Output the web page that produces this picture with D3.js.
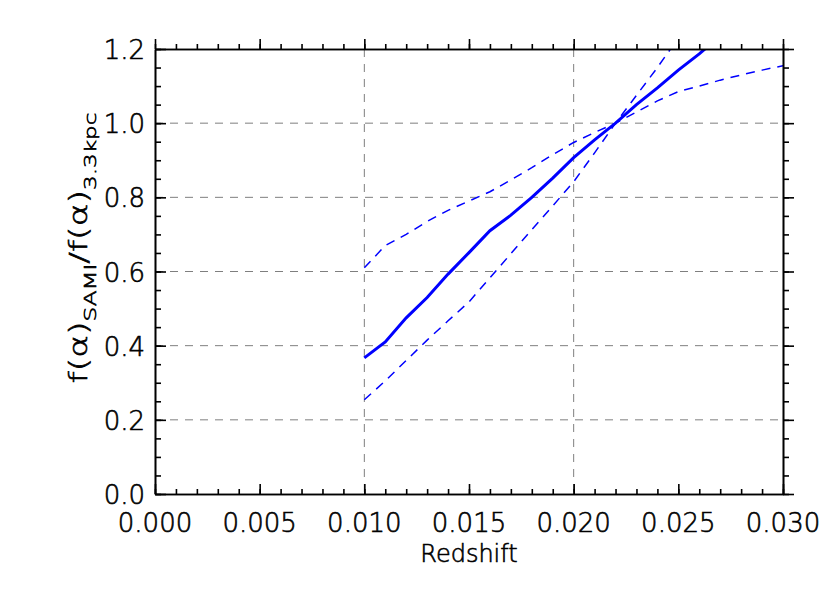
<!DOCTYPE html>
<html>
<head>
<meta charset="utf-8">
<script src="https://cdn.jsdelivr.net/npm/d3@7"></script>
<style>
  body { margin: 0; background: #fff; }
  svg { font-family: "DejaVu Sans", sans-serif; }
  text { font-weight: 200; fill: #000; stroke: #000; stroke-width: 0.6; }
</style>
</head>
<body>
<svg id="chart" width="830" height="593"></svg>
<script>
  // redshift samples
  var z = [0.010, 0.011, 0.012, 0.013, 0.014, 0.015, 0.016, 0.017, 0.018, 0.019,
           0.020, 0.021, 0.022, 0.023, 0.024, 0.025, 0.026, 0.027, 0.028, 0.029, 0.030];
  // ratio f(alpha)_SAMI / f(alpha)_3.3kpc
  var ratioMid   = [0.367, 0.41, 0.475, 0.53, 0.593, 0.651, 0.71, 0.752, 0.80, 0.852,
                    0.907, 0.955, 1.0, 1.05, 1.095, 1.143, 1.187, 1.235, 1.28, 1.325, 1.37];
  var ratioUpper = [0.61, 0.67, 0.70, 0.735, 0.765, 0.79, 0.815, 0.847, 0.88, 0.915,
                    0.948, 0.975, 1.0, 1.03, 1.06, 1.085, 1.10, 1.116, 1.13, 1.143, 1.155];
  var ratioLower = [0.254, 0.305, 0.36, 0.415, 0.467, 0.518, 0.583, 0.648, 0.713, 0.777,
                    0.842, 0.92, 1.0, 1.075, 1.15, 1.23, 1.31, 1.39, 1.47, 1.55, 1.63];

  var xTicks = [0.000, 0.005, 0.010, 0.015, 0.020, 0.025, 0.030];
  var yTicks = [0.0, 0.2, 0.4, 0.6, 0.8, 1.0, 1.2];
  var xGrid = [0.010, 0.020];
  var yGrid = [0.2, 0.4, 0.6, 0.8, 1.0];

  var margin = {top: 49, right: 47, bottom: 99, left: 155};
  var width = 830 - margin.left - margin.right,
      height = 593 - margin.top - margin.bottom;

  var x = d3.scaleLinear().domain([0, 0.030]).range([0, width]);
  var y = d3.scaleLinear().domain([0, 1.2]).range([height, 0]);

  var svg = d3.select("#chart");
  var g = svg.append("g")
    .attr("transform", "translate(" + margin.left + "," + margin.top + ")");

  svg.append("defs").append("clipPath").attr("id", "clip")
    .append("rect").attr("width", width).attr("height", height);

  // dashed grid
  g.selectAll(".hgrid").data(yGrid).enter().append("line")
    .attr("x1", 0).attr("x2", width)
    .attr("y1", function(d) { return y(d); })
    .attr("y2", function(d) { return y(d); })
    .attr("stroke", "#7f7f7f").attr("stroke-width", 1)
    .attr("stroke-dasharray", "8,7");
  g.selectAll(".vgrid").data(xGrid).enter().append("line")
    .attr("y1", 0).attr("y2", height)
    .attr("x1", function(d) { return x(d); })
    .attr("x2", function(d) { return x(d); })
    .attr("stroke", "#7f7f7f").attr("stroke-width", 1)
    .attr("stroke-dasharray", "8,7");

  // curves
  var plot = g.append("g").attr("clip-path", "url(#clip)");
  function line(vals) {
    return d3.line()
      .x(function(d, i) { return x(z[i]); })
      .y(function(d) { return y(d); })(vals);
  }
  plot.append("path").attr("d", line(ratioUpper))
    .attr("fill", "none").attr("stroke", "#0000ff")
    .attr("stroke-width", 1.5).attr("stroke-dasharray", "9,7");
  plot.append("path").attr("d", line(ratioLower))
    .attr("fill", "none").attr("stroke", "#0000ff")
    .attr("stroke-width", 1.5).attr("stroke-dasharray", "9,7");
  plot.append("path").attr("d", line(ratioMid))
    .attr("fill", "none").attr("stroke", "#0000ff")
    .attr("stroke-width", 3);

  // axes (box with ticks on all four sides)
  var xMinor = d3.range(0, 31).map(function(i) { return i * 0.001; });
  var yMinor = d3.range(0, 25).map(function(i) { return i * 0.05; });

  function styleAxis(sel) {
    sel.selectAll("path").attr("stroke", "#000").attr("stroke-width", 1.6);
    sel.selectAll("line").attr("stroke", "#000").attr("stroke-width", 1.6);
    sel.selectAll("text").remove();
  }
  [[d3.axisBottom(x), height, true], [d3.axisTop(x), 0, false]].forEach(function(a) {
    var sgn = a[2] ? -1 : 1;
    g.append("g").attr("transform", "translate(0," + a[1] + ")")
      .call(a[0].tickValues(xMinor).tickSize(5 * sgn).tickSizeOuter(0)).call(styleAxis);
    g.append("g").attr("transform", "translate(0," + a[1] + ")")
      .call((a[2] ? d3.axisBottom(x) : d3.axisTop(x)).tickValues(xTicks).tickSize(10 * sgn).tickSizeOuter(0)).call(styleAxis);
  });
  [[d3.axisLeft(y), 0, true], [d3.axisRight(y), width, false]].forEach(function(a) {
    var sgn = a[2] ? -1 : 1;
    g.append("g").attr("transform", "translate(" + a[1] + ",0)")
      .call(a[0].tickValues(yMinor).tickSize(6 * sgn).tickSizeOuter(0)).call(styleAxis);
    g.append("g").attr("transform", "translate(" + a[1] + ",0)")
      .call((a[2] ? d3.axisLeft(y) : d3.axisRight(y)).tickValues(yTicks).tickSize(11 * sgn).tickSizeOuter(0)).call(styleAxis);
  });

  // tick labels
  g.selectAll(".xl").data(xTicks).enter().append("text")
    .attr("x", function(d) { return x(d); })
    .attr("y", height + 38)
    .attr("text-anchor", "middle")
    .attr("font-size", 26)
    .text(d3.format(".3f"));
  g.selectAll(".yl").data(yTicks).enter().append("text")
    .attr("x", -10)
    .attr("y", function(d) { return y(d) + 10; })
    .attr("text-anchor", "end")
    .attr("font-size", 26)
    .text(d3.format(".1f"));

  // axis titles
  svg.append("text")
    .attr("x", margin.left + width / 2)
    .attr("y", 562)
    .attr("text-anchor", "middle")
    .attr("font-size", 24)
    .text("Redshift");

  var yl = svg.append("text")
    .attr("transform", "translate(87,248) rotate(-90)")
    .attr("text-anchor", "middle")
    .attr("font-size", 24)
    .attr("textLength", 271)
    .attr("lengthAdjust", "spacingAndGlyphs");
  yl.append("tspan").text("f(α)");
  yl.append("tspan").attr("font-size", 16).attr("dy", 9).text("SAMI");
  yl.append("tspan").attr("dy", -9).text("/f(α)");
  yl.append("tspan").attr("font-size", 16).attr("dy", 9).text("3.3kpc");
</script>
</body>
</html>
